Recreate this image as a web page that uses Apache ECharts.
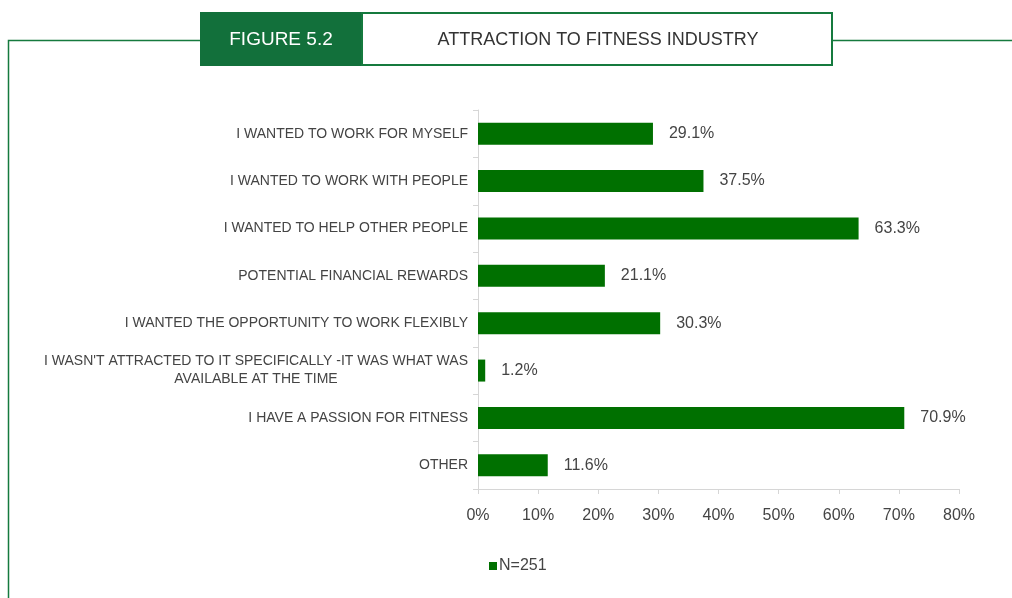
<!DOCTYPE html>
<html>
<head>
<meta charset="utf-8">
<script src="https://cdn.jsdelivr.net/npm/echarts@6/dist/echarts.min.js"></script>
<style>
  html, body { margin: 0; padding: 0; background: #fff; }
  #chart { width: 1012px; height: 598px; }
</style>
</head>
<body>
<div id="chart"></div>
<script>
// Datos del grafico
const categorias = [
  'I WANTED TO WORK FOR MYSELF',
  'I WANTED TO WORK WITH PEOPLE',
  'I WANTED TO HELP OTHER PEOPLE',
  'POTENTIAL FINANCIAL REWARDS',
  'I WANTED THE OPPORTUNITY TO WORK FLEXIBLY',
  "I WASN'T ATTRACTED TO IT SPECIFICALLY -IT WAS WHAT WAS\nAVAILABLE AT THE TIME",
  'I HAVE A PASSION FOR FITNESS',
  'OTHER'
];
const valores = [29.1, 37.5, 63.3, 21.1, 30.3, 1.2, 70.9, 11.6];
const ticksX = [0, 10, 20, 30, 40, 50, 60, 70, 80];
const serieNombre = 'N=251';

const fuente = '"Liberation Sans", Arial, sans-serif';
const verde = '#007000';
const verdeMarco = '#157a3e';
const gris = '#444';
const tamEtiqueta = 14;

// Mide el ancho del texto para centrar la segunda linea de la etiqueta larga
function anchoTexto(texto, size) {
  const ctx = document.createElement('canvas').getContext('2d');
  ctx.font = size + 'px ' + fuente;
  return Math.ceil(ctx.measureText(texto).width);
}

const myChart = echarts.init(document.getElementById('chart'));

const option = {
  animation: false,
  textStyle: { fontFamily: fuente },
  grid: { left: 478, right: 53, top: 110, bottom: 109, containLabel: false },
  legend: {
    data: [serieNombre],
    left: 484,
    top: 553,
    icon: 'rect',
    itemWidth: 8,
    itemHeight: 8,
    textStyle: { color: gris, fontSize: 16, fontFamily: fuente, padding: [0, 0, 0, -3] }
  },
  xAxis: {
    type: 'value',
    min: ticksX[0],
    max: ticksX[ticksX.length - 1],
    interval: 10,
    axisLine: { show: true, lineStyle: { color: '#d6d6d6' } },
    axisTick: { show: true, length: 5, lineStyle: { color: '#d6d6d6' } },
    splitLine: { show: false },
    axisLabel: { color: gris, fontSize: 16, margin: 19, formatter: '{value}%' }
  },
  yAxis: {
    type: 'category',
    inverse: true,
    data: categorias,
    axisLine: { show: true, lineStyle: { color: '#d6d6d6' } },
    axisTick: { show: true, length: 5, lineStyle: { color: '#d6d6d6' } },
    axisLabel: {
      color: gris,
      fontSize: tamEtiqueta,
      margin: 10,
      lineHeight: 18,
      formatter: function (v) {
        if (v.indexOf('\n') < 0) return v;
        const partes = v.split('\n');
        return '{c|' + partes[0] + '}\n{c|' + partes[1] + '}';
      },
      rich: {
        c: {
          width: anchoTexto(categorias[5].split('\n')[0], tamEtiqueta),
          align: 'center',
          fontSize: tamEtiqueta,
          color: gris,
          lineHeight: 18
        }
      }
    }
  },
  series: [{
    name: serieNombre,
    type: 'bar',
    data: valores,
    barWidth: 22,
    itemStyle: { color: verde },
    label: {
      show: true,
      position: 'right',
      distance: 16,
      color: gris,
      fontSize: 16,
      formatter: '{c}%'
    }
  }],
  graphic: [
    // Marco verde del encabezado
    { type: 'polyline', shape: { points: [[8.5, 598], [8.5, 40.5], [200, 40.5]] }, style: { stroke: verdeMarco, lineWidth: 1.5, fill: null } },
    { type: 'line', shape: { x1: 833, y1: 40.5, x2: 1012, y2: 40.5 }, style: { stroke: verdeMarco, lineWidth: 1.5 } },
    { type: 'rect', shape: { x: 200, y: 12, width: 162, height: 54 }, style: { fill: '#12703b' } },
    { type: 'rect', shape: { x: 362, y: 13, width: 470, height: 52 }, style: { fill: '#fff', stroke: verdeMarco, lineWidth: 2 } },
    { type: 'text', z: 10, style: { x: 281, y: 40, text: 'FIGURE 5.2', fill: '#fff', font: '19px ' + fuente, align: 'center', verticalAlign: 'middle' } },
    { type: 'text', z: 10, style: { x: 598, y: 40, text: 'ATTRACTION TO FITNESS INDUSTRY', fill: '#333', font: '18px ' + fuente, align: 'center', verticalAlign: 'middle' } }
  ]
};

myChart.setOption(option);
</script>
</body>
</html>
